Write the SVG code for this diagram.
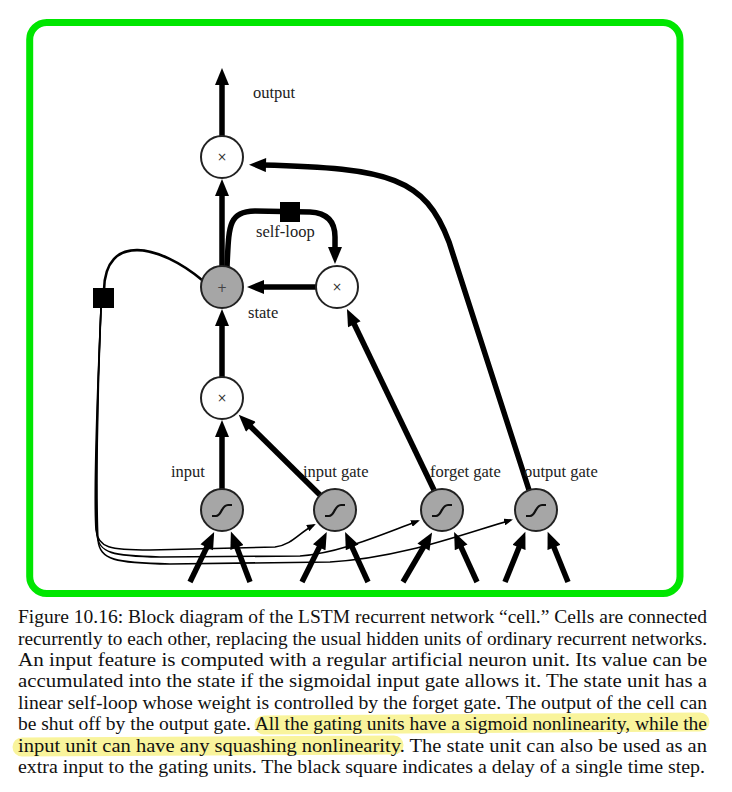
<svg xmlns="http://www.w3.org/2000/svg" width="732" height="792" viewBox="0 0 732 792">
<defs>
<marker id="ah" markerUnits="userSpaceOnUse" markerWidth="18" markerHeight="14" viewBox="0 0 17 14" refX="4" refY="7" orient="auto">
<path d="M0,0 L17,7 L0,14 z" fill="#000"/>
</marker>
<marker id="as" markerUnits="userSpaceOnUse" markerWidth="9" markerHeight="7" viewBox="0 0 9 7" refX="7" refY="3.5" orient="auto">
<path d="M0,0 L9,3.5 L0,7 z" fill="#000"/>
</marker>
</defs>
<style>
.frame{fill:none;stroke:#00e600;stroke-width:7}
.thick{fill:none;stroke:#000;stroke-width:5.5}
.thin{fill:none;stroke:#000;stroke-width:1.6}
.arc{fill:none;stroke:#000;stroke-width:2.6}
.nw{fill:#fff;stroke:#222;stroke-width:2}
.ng{fill:#a6a6a6;stroke:#222;stroke-width:2}
.sym{font-family:"DejaVu Sans",sans-serif;font-size:12px;fill:#333;text-anchor:middle}
.sig{fill:none;stroke:#111;stroke-width:2.2}
.lbl{font-family:"Liberation Serif",serif;font-size:16.5px;fill:#222}
.cap{font-family:"Liberation Serif",serif;font-size:18px;fill:#111}
.hl{fill:none;stroke:#f9f49c;stroke-width:19;stroke-linecap:round}
</style>
<rect width="732" height="792" fill="#fff"/>
<rect class="frame" x="29.7" y="22.5" width="650.3" height="571" rx="17"/>

<g id="connectors">
<line class="thick" x1="222" y1="136" x2="222" y2="81" marker-end="url(#ah)"/>
<line class="thick" x1="222" y1="266" x2="222" y2="192" marker-end="url(#ah)"/>
<line class="thick" x1="222" y1="377" x2="222" y2="322" marker-end="url(#ah)"/>
<line class="thick" x1="222" y1="489" x2="222" y2="433" marker-end="url(#ah)"/>
<line class="thick" x1="320" y1="495" x2="248" y2="424" marker-end="url(#ah)"/>
<line class="thick" x1="434" y1="490" x2="352.6" y2="320.7" marker-end="url(#ah)"/>
<line class="thick" x1="316" y1="287" x2="260" y2="287" marker-end="url(#ah)"/>
<path class="thick" d="M227,267 C229,225 228,212 255,211 L310,212 C330,213 335,225 335,237 L335,251" marker-end="url(#ah)"/>
<path class="thick" d="M529,490 L449,242 C425,178 390,168 262,165" marker-end="url(#ah)"/>
<path class="arc" d="M202,280 C160,245 105,232 104,290"/>
<path class="thin" d="M101,308 C97,400 94,500 96,530 C98,548 110,550 150,550 L275,547 C292,545 300,532 314,525" marker-end="url(#as)"/>
<path class="thin" d="M101,308 C97,400 95,500 97,535 C99,553 112,556 160,557 L300,556 C340,553 380,535 418,521" marker-end="url(#as)"/>
<path class="thin" d="M101,308 C97,400 96,500 98,540 C100,560 115,563 170,564 L330,562 C400,558 460,535 511,520" marker-end="url(#as)"/>
<line class="thick" x1="190" y1="582" x2="208.5" y2="543.7" marker-end="url(#ah)"/>
<line class="thick" x1="250" y1="582" x2="235.5" y2="543.7" marker-end="url(#ah)"/>
<line class="thick" x1="302" y1="582" x2="321" y2="543.7" marker-end="url(#ah)"/>
<line class="thick" x1="368" y1="582" x2="350.5" y2="543.7" marker-end="url(#ah)"/>
<line class="thick" x1="403" y1="582" x2="425.5" y2="543.7" marker-end="url(#ah)"/>
<line class="thick" x1="477" y1="582" x2="459.5" y2="543.7" marker-end="url(#ah)"/>
<line class="thick" x1="505" y1="582" x2="520.5" y2="543.7" marker-end="url(#ah)"/>
<line class="thick" x1="568" y1="582" x2="552.5" y2="543.7" marker-end="url(#ah)"/>
</g>

<g id="delay-selfloop"><rect x="280" y="202" width="20" height="20" fill="#000"/></g>
<g id="delay-recurrent"><rect x="93" y="288" width="21" height="20" fill="#000"/></g>

<g id="output-mult"><circle class="nw" cx="222" cy="157" r="21"/><text class="sym" x="222" y="161">×</text></g>
<g id="state"><circle class="ng" cx="222" cy="287" r="21"/><text class="sym" x="222" y="291.5" style="fill:#444">+</text></g>
<g id="selfloop-mult"><circle class="nw" cx="337" cy="287" r="21"/><text class="sym" x="337" y="291">×</text></g>
<g id="input-mult"><circle class="nw" cx="222" cy="398" r="21"/><text class="sym" x="222" y="402">×</text></g>
<g id="input"><circle class="ng" cx="222" cy="510" r="21"/><path class="sig" d="M212,516 L216,516 C222,516 221,505 228,505 L232,505"/></g>
<g id="input-gate"><circle class="ng" cx="335" cy="510" r="21"/><path class="sig" d="M325,516 L329,516 C335,516 334,505 341,505 L345,505"/></g>
<g id="forget-gate"><circle class="ng" cx="442" cy="510" r="21"/><path class="sig" d="M432,516 L436,516 C442,516 441,505 448,505 L452,505"/></g>
<g id="output-gate"><circle class="ng" cx="536" cy="510" r="21"/><path class="sig" d="M526,516 L530,516 C536,516 535,505 542,505 L546,505"/></g>

<g id="labels">
<text class="lbl" x="253" y="98">output</text>
<text class="lbl" x="256" y="237">self-loop</text>
<text class="lbl" x="248" y="318">state</text>
<text class="lbl" x="171" y="477">input</text>
<text class="lbl" x="303" y="477">input gate</text>
<text class="lbl" x="430" y="477">forget gate</text>
<text class="lbl" x="524" y="477">output gate</text>
</g>

<g id="caption">
<path class="hl" d="M264,725 L700,722"/>
<path class="hl" d="M22,747 L394,745"/>
<text class="cap" x="18" y="623" textLength="689" lengthAdjust="spacingAndGlyphs">Figure 10.16: Block diagram of the LSTM recurrent network “cell.” Cells are connected</text>
<text class="cap" x="18" y="644.5" textLength="689" lengthAdjust="spacingAndGlyphs">recurrently to each other, replacing the usual hidden units of ordinary recurrent networks.</text>
<text class="cap" x="18" y="666" textLength="689" lengthAdjust="spacingAndGlyphs">An input feature is computed with a regular artificial neuron unit.  Its value can be</text>
<text class="cap" x="18" y="687.4" textLength="689" lengthAdjust="spacingAndGlyphs">accumulated into the state if the sigmoidal input gate allows it.  The state unit has a</text>
<text class="cap" x="18" y="708.8" textLength="689" lengthAdjust="spacingAndGlyphs">linear self-loop whose weight is controlled by the forget gate.  The output of the cell can</text>
<text class="cap" x="18" y="730.2" textLength="689" lengthAdjust="spacingAndGlyphs">be shut off by the output gate. All the gating units have a sigmoid nonlinearity, while the</text>
<text class="cap" x="18" y="751.6" textLength="689" lengthAdjust="spacingAndGlyphs">input unit can have any squashing nonlinearity. The state unit can also be used as an</text>
<text class="cap" x="18" y="773" textLength="687" lengthAdjust="spacingAndGlyphs">extra input to the gating units. The black square indicates a delay of a single time step.</text>
</g>
</svg>
